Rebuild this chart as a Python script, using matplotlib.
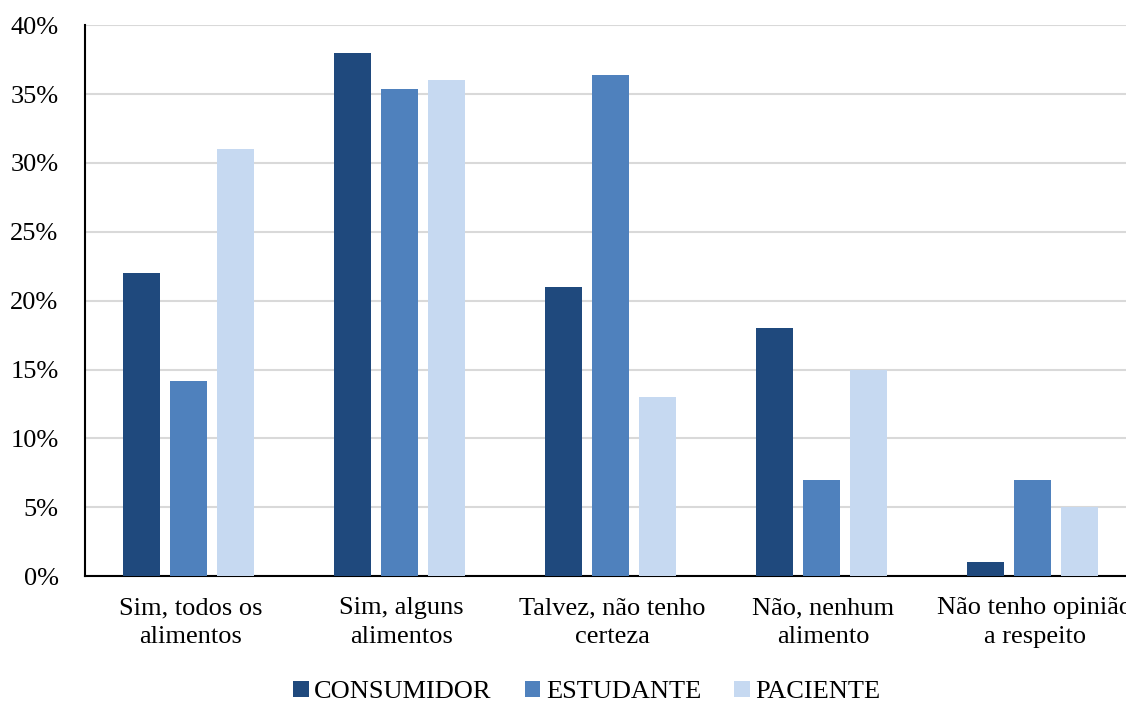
import numpy as np
import matplotlib.pyplot as plt
from matplotlib.ticker import FuncFormatter

# Respostas por grupo (%)
categorias = ["Sim, todos os\nalimentos", "Sim, alguns\nalimentos",
              "Talvez, não tenho\ncerteza", "Não, nenhum\nalimento",
              "Não tenho opinião\na respeito"]
consumidor = [22, 38, 21, 18, 1]
estudante = [14.15, 35.4, 36.4, 7, 7]
paciente = [31, 36, 13, 15, 5]

grupos = ["CONSUMIDOR", "ESTUDANTE", "PACIENTE"]
cores = ["#1F497D", "#4F81BD", "#C6D9F1"]

plt.rcParams['font.family'] = ['Liberation Serif', 'DejaVu Serif']
plt.rcParams['font.size'] = 19

fig = plt.figure(figsize=(11.26, 7.01), dpi=100)
ax = fig.add_axes([0.0755, 0.178, 0.937, 0.786])

x = np.arange(len(categorias))
largura = 0.175
passo = 0.223
for k, (vals, nome, cor) in enumerate(zip([consumidor, estudante, paciente], grupos, cores)):
    ax.bar(x + (k - 1) * passo - 0.01, vals, largura, color=cor, label=nome, zorder=3)

ax.set_xlim(-0.5, len(categorias) - 0.5)
ax.set_ylim(0, 40)
ax.set_yticks(np.arange(0, 41, 5))
ax.yaxis.set_major_formatter(FuncFormatter(lambda v, p: f"{v:.0f}%"))
ax.set_xticks(x)
ax.set_xticklabels(categorias, linespacing=1.38)
ax.tick_params(axis='both', length=0, colors='black')
ax.tick_params(axis='x', pad=15)
ax.tick_params(axis='y', pad=19)
ax.grid(axis='y', color='#D9D9D9', linewidth=1.5, zorder=0)
for lado in ['top', 'right']:
    ax.spines[lado].set_visible(False)
ax.spines['left'].set_linewidth(1.5)
ax.spines['bottom'].set_linewidth(1.5)

fig.legend(loc='center', bbox_to_anchor=(0.521, 0.013), ncol=3, frameon=False,
           handlelength=0.6, handleheight=0.6, handletextpad=0.2,
           columnspacing=1.25, borderaxespad=0)

fig.savefig("out.png", dpi=100)
